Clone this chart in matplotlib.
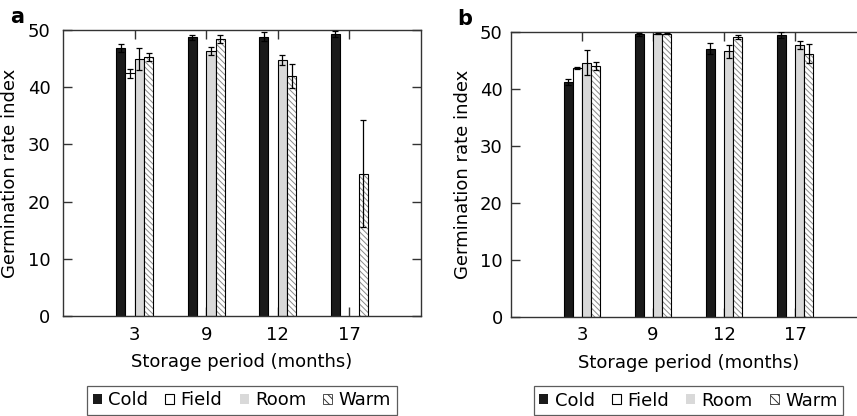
import numpy as np
import matplotlib
matplotlib.use("Agg")
import matplotlib.pyplot as plt
from matplotlib.patches import Patch

plt.rcParams['font.family'] = ['DejaVu Sans']
plt.rcParams['hatch.linewidth'] = 0.7

# datos
periods = ['3', '9', '12', '17']
treatments = ['Cold', 'Field', 'Room', 'Warm']

# panel a
a_cold = [46.8, 48.7, 48.8, 49.3]
a_field = [42.4, np.nan, np.nan, np.nan]
a_room = [44.9, 46.3, 44.7, np.nan]
a_warm = [45.3, 48.5, 42.0, 24.9]
a_cold_err = [0.7, 0.4, 0.8, 0.6]
a_field_err = [0.8, np.nan, np.nan, np.nan]
a_room_err = [1.9, 0.7, 0.9, np.nan]
a_warm_err = [0.7, 0.7, 2.1, 9.3]

# panel b
b_cold = [41.2, 49.6, 47.1, 49.5]
b_field = [43.7, np.nan, np.nan, np.nan]
b_room = [44.6, 49.7, 46.6, 47.7]
b_warm = [44.0, 49.7, 49.1, 46.2]
b_cold_err = [0.6, 0.3, 1.0, 0.5]
b_field_err = [0.2, np.nan, np.nan, np.nan]
b_room_err = [2.2, 0.1, 1.1, 0.7]
b_warm_err = [0.7, 0.1, 0.3, 1.7]

styles = {
    'Cold': dict(color='#1a1a1a', hatch=None),
    'Field': dict(color='white', hatch=None),
    'Room': dict(color='#d9d9d9', hatch=None),
    'Warm': dict(color='white', hatch='\\\\\\\\\\\\'),
}

fig = plt.figure(figsize=(8.57, 4.16), dpi=100)
ax_a = fig.add_axes([63/857, 100/416, 358/857, 286/416])
ax_b = fig.add_axes([511/857, 99.5/416, 355/857, 284.5/416])

w = 0.13
x = np.arange(len(periods))


def draw_panel(ax, series, errors, ypad):
    for k, (name, vals, err) in enumerate(zip(treatments, series, errors)):
        xs = x + (k - 1.5) * w
        st = styles[name]
        if st['hatch']:
            # rayado gris debajo, borde negro encima
            ax.bar(xs, vals, width=w, color=st['color'], edgecolor='#8a8a8a',
                   linewidth=0, hatch=st['hatch'], zorder=2)
            ax.bar(xs, vals, width=w, color='none', edgecolor='black',
                   linewidth=0.8, zorder=2)
        else:
            ax.bar(xs, vals, width=w, color=st['color'], edgecolor='black',
                   linewidth=0.8, zorder=2)
        ax.errorbar(xs, vals, yerr=err, fmt='none', ecolor='black',
                    elinewidth=0.9, capsize=2, capthick=0.9, zorder=3)
    ax.set_xlim(-1, 4)
    ax.set_ylim(0, 50)
    ax.set_xticks(x)
    ax.set_xticklabels(periods)
    ax.set_yticks([0, 10, 20, 30, 40, 50])
    ax.tick_params(axis='both', direction='in', length=6.5, width=1,
                   color='#333333', labelsize=13)
    ax.tick_params(axis='x', top=True, pad=7)
    ax.tick_params(axis='y', right=True, pad=ypad)
    for s in ax.spines.values():
        s.set_linewidth(1)
        s.set_color('#333333')
    ax.set_xlabel('Storage period (months)', fontsize=13, labelpad=7)
    ax.set_ylabel('Germination rate index', fontsize=13, labelpad=6)

    handles = [
        Patch(facecolor='#1a1a1a', edgecolor='none'),
        Patch(facecolor='white', edgecolor='black', linewidth=0.8),
        Patch(facecolor='#d9d9d9', edgecolor='none'),
        Patch(facecolor='white', edgecolor='#333333', linewidth=0.6, hatch='\\\\\\\\'),
    ]
    leg = ax.legend(handles, treatments, loc='upper center',
                    bbox_to_anchor=(0.5, -0.245), ncol=4, fontsize=13,
                    handlelength=0.5, handleheight=0.5, handletextpad=0.35,
                    columnspacing=0.95, borderpad=0.3, frameon=True,
                    fancybox=False, borderaxespad=0)
    leg.get_frame().set_edgecolor('#333333')
    leg.get_frame().set_linewidth(0.9)


draw_panel(ax_a, [a_cold, a_field, a_room, a_warm],
           [a_cold_err, a_field_err, a_room_err, a_warm_err], 9)
draw_panel(ax_b, [b_cold, b_field, b_room, b_warm],
           [b_cold_err, b_field_err, b_room_err, b_warm_err], 6)

fig.text(10/857, 1 - 23/416, 'a', fontsize=15, fontweight='bold')
fig.text(457/857, 1 - 25/416, 'b', fontsize=15, fontweight='bold')

fig.savefig('out.png', dpi=100)
